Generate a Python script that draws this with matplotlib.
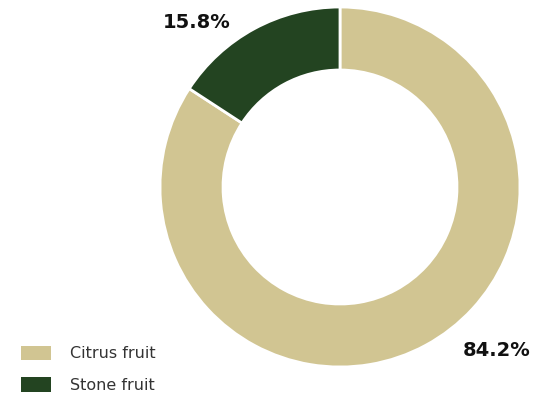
import matplotlib
matplotlib.use("Agg")
import matplotlib.pyplot as plt

categories = ["Citrus fruit", "Stone fruit"]
shares = [84.2, 15.8]
colors = ["#D1C592", "#234421"]

W, H = 535, 399
fig = plt.figure(figsize=(W / 100, H / 100), dpi=100)
plt.rcParams["font.family"] = ["DejaVu Sans"]

# donut centred at (340, 187) px with outer radius 180 px
cx, cy, r = 340, 187, 180
ax = fig.add_axes([(cx - r) / W, (H - cy - r) / H, 2 * r / W, 2 * r / H])
wedges, _ = ax.pie(
    shares,
    colors=colors,
    startangle=90,
    counterclock=False,
    radius=1.0,
    wedgeprops=dict(width=0.35, edgecolor="white", linewidth=2),
)
ax.set_xlim(-1, 1)
ax.set_ylim(-1, 1)
ax.axis("off")

# percentage labels
label_px = [(497, 350), (197, 22)]
for (px, py), val in zip(label_px, shares):
    fig.text(px / W, 1 - py / H, f"{val}%", ha="center", va="center",
             fontsize=14, fontweight="bold", color="#111111")

leg = fig.legend(
    wedges, categories,
    loc="upper left",
    bbox_to_anchor=(8 / W, 1 - 333 / H),
    frameon=False,
    fontsize=11.5,
    handlelength=1.9,
    handleheight=1.0,
    handletextpad=1.2,
    labelspacing=1.0,
    borderpad=0.3,
    labelcolor="#333333",
)
for h in leg.legend_handles:
    h.set_edgecolor("none")

fig.savefig("out.png", dpi=100)
